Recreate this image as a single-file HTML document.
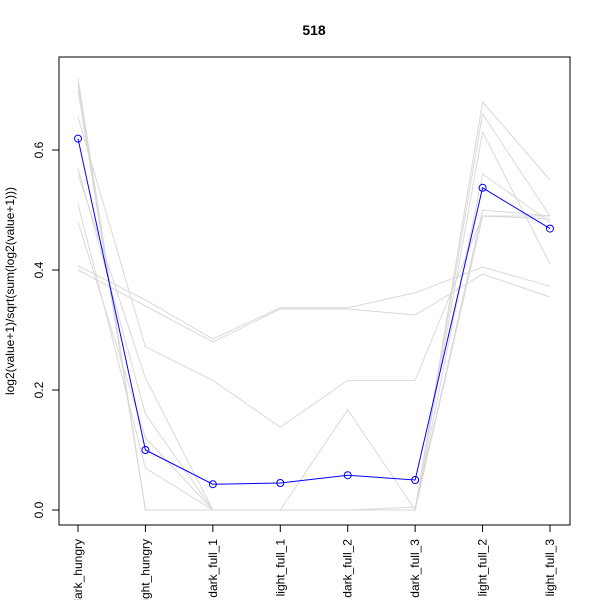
<!DOCTYPE html>
<html><head><meta charset="utf-8"><style>
html,body{margin:0;padding:0;background:#fff;width:600px;height:600px;overflow:hidden}
text{font-family:"Liberation Sans",sans-serif}
</style></head><body>
<svg id="chart" width="600" height="600" xmlns="http://www.w3.org/2000/svg">
<text x="314" y="35" text-anchor="middle" font-size="14" font-weight="bold">518</text>
<text transform="translate(14,291) rotate(-90)" text-anchor="middle" font-size="12">log2(value+1)/sqrt(sum(log2(value+1)))</text>
<rect x="59" y="57" width="511" height="468" fill="none" stroke="#000" stroke-width="1"/>
<g id="grid"></g>
<g id="series"></g>
<g id="axes"></g>
</svg>
<script>
const categories=["dark_hungry","light_hungry","dark_full_1","light_full_1","dark_full_2","dark_full_3","light_full_2","light_full_3"];
const yTicks=[0.0,0.2,0.4,0.6];
const yTickLabels=["0.0","0.2","0.4","0.6"];
const grey1=[0.72,0,0,0,0,0,0.68,0.55];
const grey2=[0.71,0,0,0,0,0,0.66,0.49];
const grey3=[0.70,0,0,0,0,0,0.63,0.41];
const grey4=[0.57,0.16,0,0,0,0,0.56,0.48];
const grey5=[0.56,0.22,0,0,0,0,0.50,0.49];
const grey6=[0.655,0.272,0.216,0.138,0.216,0.216,0.49,0.49];
const grey7=[0.407,0.35,0.285,0.337,0.337,0.362,0.405,0.373];
const grey8=[0.40,0.34,0.28,0.335,0.335,0.325,0.393,0.355];
const grey9=[0.51,0.07,0,0,0.167,0,0.49,0.49];
const grey10=[0.48,0.12,0,0,0,0.005,0.49,0.485];
const greySeries=[grey1,grey2,grey3,grey4,grey5,grey6,grey7,grey8,grey9,grey10];
const blueSeries=[0.619,0.100,0.043,0.045,0.058,0.050,0.537,0.469];

const NS="http://www.w3.org/2000/svg";
function xScale(i){return 78+i*(550-78)/(categories.length-1);}
function yScale(v){return 510-v*600;}
function mk(tag,attrs,parent){const e=document.createElementNS(NS,tag);for(const k in attrs)e.setAttribute(k,attrs[k]);parent.appendChild(e);return e;}
const series=document.getElementById('series');
const axes=document.getElementById('axes');
greySeries.forEach((s,j)=>{
  const pts=s.map((v,i)=>xScale(i)+","+yScale(v)).join(" ");
  const l=mk('polyline',{points:pts,fill:"none",stroke:"#d9d9d9","stroke-width":"1"},series);
  
  
});
const bl=mk('polyline',{points:blueSeries.map((v,i)=>xScale(i)+","+yScale(v)).join(" "),fill:"none",stroke:"#0000ff","stroke-width":"1"},series);


blueSeries.forEach((v,i)=>{
  const c=mk('circle',{cx:xScale(i),cy:yScale(v),r:3.5,fill:"none",stroke:"#0000ff","stroke-width":"1"},series);
  
  
});
// y axis
const ya=mk('line',{x1:59,x2:59,y1:yScale(0),y2:yScale(0.6),stroke:"#000"},axes);


yTicks.forEach((t,i)=>{
  const y=yScale(t);
  const tk=mk('line',{x1:52,x2:59,y1:y,y2:y,stroke:"#000"},axes);
  
  
  const tx=mk('text',{transform:`translate(43,${y}) rotate(-90)`,"text-anchor":"middle","font-size":"12"},axes);
  tx.textContent=yTickLabels[i];
  
  
});
const xa=mk('line',{x1:xScale(0),x2:xScale(categories.length-1),y1:525,y2:525,stroke:"#000"},axes);


categories.forEach((c,i)=>{
  const x=xScale(i);
  const tk=mk('line',{x1:x,x2:x,y1:525,y2:532,stroke:"#000"},axes);
  
  
  const tx=mk('text',{transform:`translate(${x+4},539) rotate(-90)`,"text-anchor":"end","font-size":"12"},axes);
  tx.textContent=c;
  
  
});
</script>
</body></html>
